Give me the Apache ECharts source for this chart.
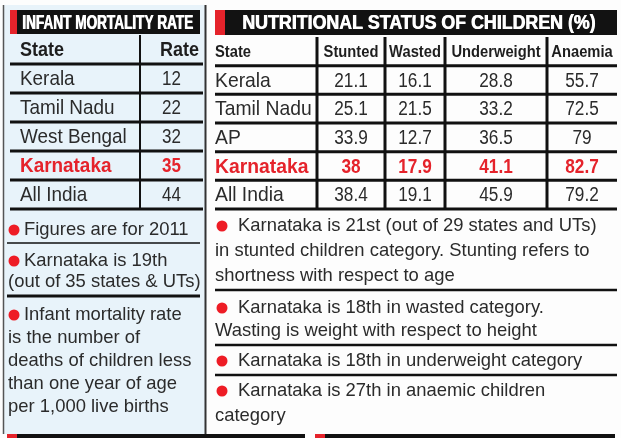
<!DOCTYPE html>
<html><head><meta charset="utf-8">
<script src="https://cdn.jsdelivr.net/npm/echarts@6/dist/echarts.min.js"></script>
<style>html,body{margin:0;padding:0;background:#fff}#c{width:621px;height:438px}</style>
</head><body><div id="c"></div>
<script>
// ---------- DATA ----------
const imrTitle = 'INFANT MORTALITY RATE';
const imrHeaders = ['State', 'Rate'];
const imrStates = ['Kerala', 'Tamil Nadu', 'West Bengal', 'Karnataka', 'All India'];
const imrRates = [12, 22, 32, 35, 44];

const nutTitle = 'NUTRITIONAL STATUS OF CHILDREN (%)';
const nutHeaders = ['State', 'Stunted', 'Wasted', 'Underweight', 'Anaemia'];
const nutStates = ['Kerala', 'Tamil Nadu', 'AP', 'Karnataka', 'All India'];
const stunted = [21.1, 25.1, 33.9, 38, 38.4];
const wasted = [16.1, 21.5, 12.7, 17.9, 19.1];
const underweight = [28.8, 33.2, 36.5, 41.1, 45.9];
const anaemia = [55.7, 72.5, 79, 82.7, 79.2];

const highlightState = 'Karnataka';

const imrNotes = [
  ['Figures are for 2011'],
  ['Karnataka is 19th', '(out of 35 states & UTs)'],
  ['Infant mortality rate', 'is the number of', 'deaths of children less', 'than one year of age', 'per 1,000 live births']
];
const nutNotes = [
  ['Karnataka is 21st (out of 29 states and UTs)', 'in stunted children category. Stunting refers to', 'shortness with respect to age'],
  ['Karnataka is 18th in wasted category.', 'Wasting is weight with respect to height'],
  ['Karnataka is 18th in underweight category'],
  ['Karnataka is 27th in anaemic children', 'category']
];

// ---------- LAYOUT / STYLE ----------
const FONT = '"Liberation Sans", Arial, sans-serif';
const RED = '#e5232b';
const INK = '#2b2b2b';
const layoutL = { left: 10, top: 35, width: 193, height: 174, edges: [0, 130, 193], pad: 10,
  stateFont: '21px', stateScale: 0.9, numFont: '20px', numScale: 0.85,
  headFont: 'bold 20px', headScale: 0.9, headAlign: 'right', hLine: 3, vLine: 2 };
const layoutR = { left: 215, top: 37, width: 402, height: 172, edges: [0, 102, 170, 230, 332, 402], pad: 0,
  stateFont: '21px', stateScale: 0.92, numFont: '20px', numScale: 0.86,
  headFont: 'bold 16px', headScale: 0.92, headAlign: 'center', hLine: 3, vLine: 3 };

function buildCells(headers, states, columns) {
  const cells = [];
  headers.forEach((h, c) => cells.push({ col: c, row: 0, text: h, kind: 'head', hl: false }));
  states.forEach((s, i) => {
    const hl = s === highlightState;
    cells.push({ col: 0, row: i + 1, text: s, kind: 'state', hl });
    columns.forEach((arr, j) => cells.push({ col: j + 1, row: i + 1, text: String(arr[i]), kind: 'num', hl }));
  });
  return cells;
}
const cellsL = buildCells(imrHeaders, imrStates, [imrRates]);
const cellsR = buildCells(nutHeaders, nutStates, [stunted, wasted, underweight, anaemia]);

function makeRender(cells, lay) {
  return function (params, api) {
    const c = cells[params.dataIndex];
    const x0 = api.coord([lay.edges[c.col], c.row])[0];
    const x1 = api.coord([lay.edges[c.col + 1], c.row])[0];
    const yc = api.coord([0, c.row])[1];
    const h = api.size([0, 1])[1];
    const yTop = yc - h / 2, yBot = yc + h / 2;
    let font, scale, align, tx;
    if (c.kind === 'head') {
      font = lay.headFont; scale = lay.headScale;
      if (c.col === 0) { align = 'left'; tx = x0 + lay.pad; }
      else if (lay.headAlign === 'right') { align = 'right'; tx = x1 - 4; }
      else { align = 'center'; tx = (x0 + x1) / 2; }
    } else if (c.kind === 'state') {
      font = (c.hl ? 'bold ' : '') + lay.stateFont; scale = lay.stateScale; align = 'left'; tx = x0 + lay.pad;
    } else {
      font = (c.hl ? 'bold ' : '') + lay.numFont; scale = lay.numScale; align = 'center'; tx = (x0 + x1) / 2;
    }
    const children = [
      { type: 'text', x: tx, y: yc + 1, scaleX: scale,
        style: { x: 0, y: 0, text: c.text, font: font + ' ' + FONT, fill: c.hl ? RED : (c.kind === 'head' ? '#1e1e1e' : INK),
          align: align, verticalAlign: 'middle' } },
      { type: 'line', shape: { x1: x0, y1: yBot, x2: x1, y2: yBot }, style: { stroke: '#111', lineWidth: lay.hLine } }
    ];
    if (c.col > 0) {
      children.push({ type: 'line', shape: { x1: x0, y1: yTop, x2: x0, y2: yBot }, style: { stroke: '#111', lineWidth: lay.vLine } });
    }
    return { type: 'group', children };
  };
}

// ---------- GRAPHIC (panels, titles, notes) ----------
const g = [];
g.push({ type: 'rect', shape: { x: 3, y: 5, width: 202, height: 429 }, style: { fill: '#e8f3fa' }, z: -5 });
g.push({ type: 'line', shape: { x1: 3.5, y1: 5, x2: 3.5, y2: 434 }, style: { stroke: '#555', lineWidth: 1.5 }, z: -4 });
g.push({ type: 'line', shape: { x1: 205.5, y1: 5, x2: 205.5, y2: 434 }, style: { stroke: '#333', lineWidth: 2 }, z: -4 });
// titles (drawn twice with a small offset for a heavier weight)
function addTitle(text, x, scale) {
  [0, 0.7].forEach(dx => g.push({ type: 'text', x: x + dx, y: 23, scaleX: scale,
    style: { x: 0, y: 0, text: text, font: 'bold 20px ' + FONT, fill: '#fff', verticalAlign: 'middle' } }));
}
g.push({ type: 'rect', shape: { x: 10, y: 10, width: 190, height: 24 }, style: { fill: '#121212' } });
g.push({ type: 'rect', shape: { x: 10, y: 10, width: 7, height: 24 }, style: { fill: RED } });
addTitle(imrTitle, 22, 0.68);
g.push({ type: 'rect', shape: { x: 215, y: 10, width: 402, height: 25 }, style: { fill: '#121212' } });
g.push({ type: 'rect', shape: { x: 215, y: 10, width: 10, height: 25 }, style: { fill: RED } });
addTitle(nutTitle, 242, 0.89);

function addNotes(notes, opt) {
  notes.forEach((lines, bi) => {
    const ys = opt.lineY[bi];
    lines.forEach((t, li) => {
      const x = li === 0 ? opt.firstX : opt.contX;
      g.push({ type: 'text', x: x, y: ys[li], scaleX: opt.scale,
        style: { x: 0, y: 0, text: t, font: '19px ' + FONT, fill: INK, verticalAlign: 'middle' } });
    });
    g.push({ type: 'circle', shape: { cx: opt.bulletX, cy: ys[0], r: opt.r }, style: { fill: '#ee1c25' } });
  });
  opt.seps.forEach(s => g.push({ type: 'line', shape: { x1: opt.sepX0, y1: s[0], x2: opt.sepX1, y2: s[0] }, style: { stroke: '#111', lineWidth: s[1] } }));
}
addNotes(imrNotes, { firstX: 24, contX: 8, bulletX: 14, r: 5.5, scale: 0.97,
  lineY: [[230], [261, 282], [315, 338, 361, 384, 407]],
  seps: [[243, 1.5], [296, 3]], sepX0: 7, sepX1: 200 });
addNotes(nutNotes, { firstX: 238, contX: 215, bulletX: 222, r: 5.5, scale: 0.97,
  lineY: [[226, 251, 276], [308, 331], [361], [391, 416]],
  seps: [[290, 2.5], [345, 2.5], [375, 2.5]], sepX0: 215, sepX1: 617 });
// next-section bars at the bottom
g.push({ type: 'rect', shape: { x: 7, y: 434, width: 298, height: 5 }, style: { fill: '#111' } });
g.push({ type: 'rect', shape: { x: 7, y: 434, width: 10, height: 5 }, style: { fill: RED } });
g.push({ type: 'rect', shape: { x: 315, y: 434, width: 300, height: 5 }, style: { fill: '#111' } });
g.push({ type: 'rect', shape: { x: 315, y: 434, width: 10, height: 5 }, style: { fill: RED } });

// ---------- CHART ----------
function gridOf(lay) { return { left: lay.left, top: lay.top, width: lay.width, height: lay.height, containLabel: false, show: false }; }
function xOf(lay, i) { return { type: 'value', gridIndex: i, min: 0, max: lay.width, show: false }; }
function yOf(states, i) { return { type: 'category', gridIndex: i, data: ['header'].concat(states), inverse: true, show: false }; }

const chart = echarts.init(document.getElementById('c'), null, { renderer: 'canvas' });
chart.setOption({
  animation: false,
  backgroundColor: '#fdfdfd',
  grid: [gridOf(layoutL), gridOf(layoutR)],
  xAxis: [xOf(layoutL, 0), xOf(layoutR, 1)],
  yAxis: [yOf(imrStates, 0), yOf(nutStates, 1)],
  graphic: g,
  series: [
    { type: 'custom', xAxisIndex: 0, yAxisIndex: 0, renderItem: makeRender(cellsL, layoutL),
      data: cellsL.map(c => [layoutL.edges[c.col], c.row]), clip: false, silent: true },
    { type: 'custom', xAxisIndex: 1, yAxisIndex: 1, renderItem: makeRender(cellsR, layoutR),
      data: cellsR.map(c => [layoutR.edges[c.col], c.row]), clip: false, silent: true }
  ]
});
</script></body></html>
